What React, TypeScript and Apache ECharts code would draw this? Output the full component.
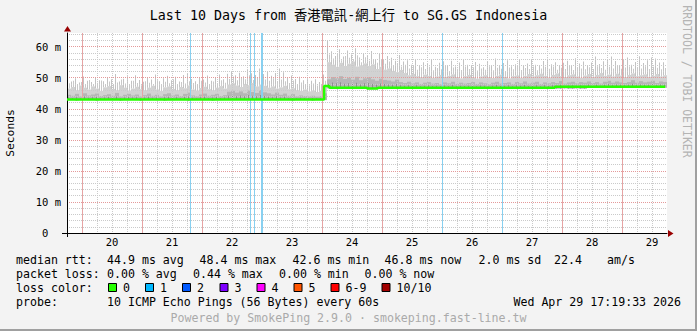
import React, { useEffect, useRef } from 'react';
import * as echarts from 'echarts';

const MONO = '"DejaVu Sans Mono", "Noto Sans CJK TC", monospace';

const titleText = 'Last 10 Days from 香港電訊-網上行 to SG.GS Indonesia';
const yAxisName = 'Seconds';
const watermark = 'RRDTOOL / TOBI OETIKER';

// time grid of smoke samples (days of April)
const sampleStart = 19.75;
const sampleStep = 1 / 15;

const smokeLow = [
  42.8, 42.8, 42.7, 42.8, 42.9, 42.8, 42.8, 42.7, 42.8, 42.8,
  42.9, 42.8, 42.8, 42.7, 42.8, 42.8, 42.9, 42.8, 42.7, 42.8,
  42.8, 42.9, 42.8, 42.8, 42.7, 42.8, 42.8, 42.9, 42.8, 42.8,
  42.7, 42.8, 42.8, 42.9, 42.8, 42.8, 42.7, 42.8, 42.8, 42.9,
  42.9, 43.0, 42.9, 43.0, 43.1, 42.9, 43.0, 43.0, 42.9, 43.0,
  42.8, 42.9, 42.8, 42.8, 42.9, 42.8, 42.7, 42.8, 42.8, 42.8,
  42.8, 42.7, 42.8, 42.8, 42.8, 46.6, 46.8, 46.7, 46.6, 46.5,
  46.5, 46.6, 46.5, 46.5, 46.6, 46.5, 46.4, 46.5, 46.5, 46.6,
  46.5, 46.6, 46.5, 46.5, 46.6, 46.5, 46.5, 46.6, 46.5, 46.5,
  46.6, 46.5, 46.5, 46.6, 46.5, 46.5, 46.6, 46.5, 46.5, 46.6,
  46.5, 46.6, 46.5, 46.5, 46.6, 46.5, 46.5, 46.6, 46.5, 46.5,
  46.6, 46.5, 46.5, 46.6, 46.5, 46.5, 46.6, 46.5, 46.5, 46.6,
  46.5, 46.6, 46.5, 46.5, 46.6, 46.5, 46.5, 46.6, 46.5, 46.5,
  46.8, 46.8, 46.9, 46.8, 46.8, 46.9, 46.8, 46.8, 46.9, 46.8,
  46.8, 46.9, 46.8, 46.8, 46.9, 46.8, 46.8, 46.9, 46.8, 46.8,
];

const smokeDark = [
  44.5, 44.2, 44.8, 44.0, 45.0, 44.3, 44.6, 44.9, 44.1, 44.4,
  44.7, 44.2, 45.1, 44.0, 44.5, 44.8, 44.3, 44.6, 44.0, 44.4,
  44.9, 44.2, 44.5, 44.0, 44.7, 45.0, 44.3, 44.6, 44.1, 44.8,
  45.2, 44.3, 44.0, 44.6, 44.9, 44.2, 44.5, 44.8, 44.1, 44.4,
  45.5, 45.8, 45.2, 45.6, 45.0, 45.9, 45.4, 45.1, 46.0, 45.3,
  45.0, 44.6, 45.2, 44.5, 44.9, 44.2, 44.7, 44.0, 44.3, 44.1,
  44.0, 44.2, 43.9, 44.1, 45.0, 49.5, 50.2, 49.8, 50.5, 49.6,
  50.0, 49.4, 50.3, 49.2, 49.8, 50.1, 49.5, 49.0, 49.7, 49.3,
  49.1, 48.8, 49.4, 48.6, 48.3, 48.7, 48.2, 48.5, 48.0, 48.4,
  48.6, 48.1, 48.3, 47.9, 48.5, 48.2, 48.7, 48.0, 48.4, 48.1,
  48.3, 48.6, 48.0, 48.5, 48.2, 47.9, 48.4, 48.7, 48.1, 48.3,
  48.5, 48.0, 48.6, 48.2, 48.8, 48.1, 48.4, 48.7, 48.0, 48.5,
  48.2, 48.6, 48.3, 48.9, 48.1, 48.5, 48.7, 48.2, 48.6, 48.4,
  48.8, 48.3, 48.6, 48.1, 48.7, 49.0, 48.4, 48.8, 48.5, 48.3,
  48.6, 49.2, 48.4, 48.9, 48.5, 48.7, 49.0, 48.3, 48.8, 48.6,
];

const smokeDense = [
  46.5, 47.0, 46.0, 47.5, 46.8, 46.2, 47.2, 46.5, 45.8, 46.9,
  47.3, 46.4, 46.0, 47.6, 46.8, 45.9, 46.5, 47.1, 46.3, 46.0,
  46.8, 47.4, 46.2, 45.8, 46.9, 47.2, 46.4, 46.0, 47.0, 46.6,
  47.5, 46.2, 45.9, 46.7, 47.1, 46.3, 46.0, 46.8, 47.3, 46.5,
  47.8, 48.2, 47.5, 47.0, 48.0, 47.6, 48.3, 47.2, 47.8, 47.4,
  46.8, 47.2, 46.5, 46.9, 47.4, 46.3, 46.6, 46.0, 45.8, 46.2,
  45.6, 45.9, 45.4, 45.8, 47.5, 55.0, 54.2, 53.5, 54.8, 53.8,
  54.5, 55.2, 53.6, 54.0, 54.6, 53.8, 54.3, 52.8, 53.5, 52.6,
  53.0, 52.2, 51.8, 52.5, 51.5, 50.8, 51.2, 50.5, 50.2, 51.0,
  50.6, 50.0, 50.4, 50.9, 50.3, 50.6, 51.1, 50.2, 49.8, 50.5,
  50.9, 50.1, 49.7, 50.4, 50.8, 50.2, 49.9, 50.6, 51.0, 50.3,
  49.8, 50.5, 50.7, 50.0, 50.6, 51.2, 50.4, 50.8, 51.3, 50.6,
  50.1, 50.9, 51.4, 50.5, 50.2, 50.8, 51.1, 50.4, 50.0, 50.7,
  51.2, 50.3, 50.9, 51.5, 50.6, 51.0, 50.4, 51.3, 50.7, 50.2,
  50.9, 51.4, 50.5, 50.8, 51.1, 50.3, 50.6, 51.2, 50.4, 50.8,
];

const smokeSpike = [
  49.5, 48.8, 49.8, 48.5, 50.4, 49.0, 48.6, 50.0, 49.2, 48.9,
  50.2, 49.5, 51.2, 48.8, 49.7, 50.5, 49.0, 50.8, 49.3, 48.7,
  50.0, 49.4, 51.0, 48.9, 49.8, 50.6, 49.2, 50.3, 48.8, 50.9,
  51.5, 49.6, 48.9, 50.2, 49.4, 50.7, 49.0, 50.1, 51.0, 49.5,
  51.3, 52.0, 50.8, 51.6, 50.5, 52.5, 51.4, 50.9, 53.0, 51.2,
  52.0, 50.6, 51.5, 53.0, 51.8, 49.9, 50.7, 49.6, 50.3, 49.2,
  49.8, 49.0, 49.5, 48.6, 51.0, 62.0, 58.5, 57.0, 59.2, 56.8,
  58.8, 57.5, 59.5, 56.5, 58.0, 57.2, 58.6, 56.0, 57.8, 55.8,
  57.0, 56.4, 55.5, 57.3, 55.2, 55.6, 54.2, 56.0, 53.8, 55.0,
  54.4, 55.7, 53.5, 54.8, 55.3, 54.0, 55.5, 53.6, 54.9, 56.0,
  54.2, 53.8, 55.1, 54.5, 53.4, 55.2, 54.0, 56.2, 53.9, 54.7,
  55.6, 53.7, 54.3, 55.8, 54.1, 54.6, 55.9, 54.2, 53.8, 55.4,
  56.1, 54.3, 55.0, 53.9, 54.8, 55.5, 54.1, 56.3, 54.6, 55.2,
  53.8, 54.9, 56.8, 54.4, 55.3, 56.0, 56.8, 55.4, 54.0, 55.8,
  56.5, 54.2, 55.1, 56.9, 54.7, 55.6, 56.5, 56.2, 54.9, 55.0,
];

const smokeSpike2 = [
  48.2, 49.0, 47.8, 48.6, 48.0, 49.3, 47.9, 48.4, 49.1, 47.7,
  48.8, 47.9, 48.5, 49.4, 48.1, 47.8, 49.0, 48.3, 47.6, 48.9,
  48.4, 48.0, 49.2, 47.9, 48.7, 48.2, 49.5, 47.8, 48.6, 48.1,
  48.9, 48.3, 47.7, 49.0, 48.5, 48.0, 48.8, 47.9, 49.2, 48.4,
  49.6, 50.4, 49.2, 50.0, 49.5, 50.8, 49.3, 50.2, 49.8, 49.4,
  49.0, 49.8, 48.6, 49.4, 48.9, 48.3, 49.1, 48.0, 48.5, 47.8,
  47.6, 48.1, 47.5, 47.9, 49.0, 57.5, 56.2, 58.0, 55.6, 57.0,
  56.4, 55.8, 57.2, 55.0, 56.6, 55.5, 56.0, 54.8, 55.9, 54.5,
  55.2, 54.0, 54.6, 53.6, 54.2, 53.0, 53.8, 52.6, 53.4, 52.8,
  53.5, 52.4, 53.1, 52.7, 53.9, 52.2, 53.3, 52.9, 52.5, 53.6,
  52.8, 53.4, 52.3, 53.0, 52.6, 53.7, 52.4, 53.2, 52.9, 52.1,
  53.3, 52.7, 53.8, 52.5, 53.1, 52.8, 53.6, 52.4, 53.0, 53.5,
  52.9, 53.6, 52.6, 53.2, 52.8, 53.9, 52.5, 53.3, 53.0, 52.7,
  53.4, 52.8, 53.7, 53.1, 52.6, 53.5, 53.0, 53.8, 52.9, 53.3,
  53.6, 52.9, 53.4, 53.0, 53.7, 52.8, 53.5, 53.2, 52.7, 53.1,
];

// median RTT (ms), step changes
const medianTimes = [19.75, 24.035, 24.125, 24.75, 24.93, 27.88, 29.72];
const medianValues = [43.0, 47.3, 46.8, 46.5, 46.8, 47.1, 47.1];

// samples with packet loss (1/10)
const lossTimes = [21.795, 22.803, 22.87, 22.978, 23.003, 26.012, 27.003];

// day boundaries (major grid)
const midnightTimes = [20, 21, 22, 23, 24, 25, 26, 27, 28, 29];

const xMin = 19.75;
const xMax = 29.75;
const yMin = 0;
const yMax = 64.4;

const rttLabel = 'median rtt:';
const rttItems = ['44.9 ms avg', '48.4 ms max', '42.6 ms min', '46.8 ms now', '2.0 ms sd', '22.4', 'am/s'];
const rttX = [107, 199.5, 292.5, 384.5, 478.5, 554, 607];

const lossLabel = 'packet loss:';
const lossItems = ['0.00 % avg', '0.44 % max', '0.00 % min', '0.00 % now'];
const lossX = [107, 193, 279, 364.5];

const colorLabel = 'loss color:';
const lossColorNames = ['0', '1', '2', '3', '4', '5', '6-9', '10/10'];
const lossColorValues = ['#26ff00', '#00b8ff', '#0059ff', '#7e00ff', '#ff00ff', '#ff5500', '#ff0000', '#a10000'];
const lossBoxX = [108, 145, 182, 219.5, 256.5, 293.5, 330.5, 381.5];

const probeLabel = 'probe:';
const probeText = '10 ICMP Echo Pings (56 Bytes) every 60s';
const dateText = 'Wed Apr 29 17:19:33 2026';
const poweredText = 'Powered by SmokePing 2.9.0 · smokeping.fast-line.tw';

const LEG = 11.6;

function txt(text: string, x: number, y: number, extra: any = {}) {
  return {
    type: 'text',
    x,
    y,
    silent: true,
    style: {
      text,
      fill: '#000',
      font: `${LEG}px ${MONO}`,
      align: 'left',
      verticalAlign: 'middle',
      textAlign: 'left',
      textVerticalAlign: 'middle',
      ...extra,
    },
  };
}

export default function App() {
  const ref = useRef<HTMLDivElement>(null);

  useEffect(() => {
    document.body.style.margin = '0';
    if (!ref.current) return;
    const chart = echarts.init(ref.current, undefined, { renderer: 'svg' });

    const smokeData = smokeLow.map((l, i) => [
      sampleStart + i * sampleStep,
      l,
      smokeDark[i],
      smokeDense[i],
      smokeSpike[i],
      smokeSpike2[i],
    ]);

    const graphic: any[] = [];
    graphic.push({ type: 'rect', shape: { x: 695, y: 0, width: 2, height: 331 }, style: { fill: '#a0a0a0' }, silent: true });
    graphic.push({ type: 'rect', shape: { x: 0, y: 329, width: 697, height: 2 }, style: { fill: '#a0a0a0' }, silent: true });
    graphic.push(txt(titleText, 348.5, 15, { font: `13.3px ${MONO}`, align: 'center', textAlign: 'center' }));
    graphic.push({
      type: 'text', x: 10, y: 133, rotation: Math.PI / 2, silent: true,
      style: { text: yAxisName, fill: '#000', font: `11.3px ${MONO}`, align: 'center', verticalAlign: 'middle', textAlign: 'center', textVerticalAlign: 'middle' },
    });
    graphic.push({
      type: 'text', x: 687, y: 81.5, rotation: -Math.PI / 2, silent: true,
      style: { text: watermark, fill: '#b4b4b4', font: `11.5px ${MONO}`, align: 'center', verticalAlign: 'middle', textAlign: 'center', textVerticalAlign: 'middle' },
    });
    // axis extensions and arrows
    graphic.push({ type: 'line', shape: { x1: 62, y1: 233.5, x2: 67, y2: 233.5 }, style: { stroke: '#000', lineWidth: 1 }, silent: true });
    graphic.push({ type: 'line', shape: { x1: 67.5, y1: 233, x2: 67.5, y2: 237 }, style: { stroke: '#000', lineWidth: 1 }, silent: true });
    graphic.push({ type: 'polygon', shape: { points: [[668, 230], [673.5, 233.5], [668, 237]] }, style: { fill: '#990000' }, silent: true });
    graphic.push({ type: 'polygon', shape: { points: [[64, 31.5], [67.5, 26], [71, 31.5]] }, style: { fill: '#990000' }, silent: true });

    // legend
    graphic.push(txt(rttLabel, 16, 259.5));
    rttItems.forEach((s, i) => graphic.push(txt(s, rttX[i], 259.5)));
    graphic.push(txt(lossLabel, 16, 273.5));
    lossItems.forEach((s, i) => graphic.push(txt(s, lossX[i], 273.5)));
    graphic.push(txt(colorLabel, 16, 287.5));
    lossColorNames.forEach((s, i) => {
      graphic.push({
        type: 'rect', silent: true,
        shape: { x: lossBoxX[i] + 0.5, y: 283.5, width: 8, height: 8 },
        style: { fill: lossColorValues[i], stroke: '#000', lineWidth: 1 },
      });
      graphic.push(txt(s, lossBoxX[i] + 15, 287.5));
    });
    graphic.push(txt(probeLabel, 16, 301.5));
    graphic.push(txt(probeText, 107, 301.5));
    graphic.push(txt(dateText, 681, 301.5, { align: 'right', textAlign: 'right' }));
    graphic.push(txt(poweredText, 348.5, 318, { fill: '#aaaaaa', align: 'center', textAlign: 'center' }));

    const option: any = {
      animation: false,
      backgroundColor: '#f3f3f3',
      grid: { left: 67, top: 33, width: 600, height: 200, show: true, backgroundColor: '#ffffff', borderWidth: 0 },
      xAxis: {
        type: 'value', min: xMin, max: xMax, interval: 0.25, z: 3,
        axisLine: { show: true, onZero: false, lineStyle: { color: '#000', width: 1 } },
        axisTick: { show: false },
        axisLabel: {
          formatter: (v: number) => (Math.abs(v - Math.floor(v) - 0.5) < 1e-6 ? String(Math.floor(v)) : ''),
          fontSize: 10.5, fontFamily: MONO, color: '#000', margin: 4,
        },
        splitLine: { show: true, showMinLine: false, showMaxLine: false, lineStyle: { color: '#cacaca', type: [1, 1], width: 1 } },
      },
      yAxis: [
        {
          type: 'value', min: yMin, max: yMax, interval: 2, position: 'left', offset: 0, z: 3,
          axisLine: { show: false }, axisTick: { show: false }, axisLabel: { show: false },
          splitLine: { show: true, showMinLine: false, showMaxLine: false, lineStyle: { color: '#cacaca', type: [1, 1], width: 1 } },
        },
        {
          type: 'value', min: yMin, max: yMax, interval: 10, position: 'left', offset: 0, z: 4,
          axisLine: { show: true, lineStyle: { color: '#000', width: 1 } },
          axisTick: { show: false },
          axisLabel: {
            formatter: (v: number) => (v === 0 ? '{z|0}' : Math.abs(v % 10) < 1e-6 ? `${v} m` : ''),
            fontSize: 10.5, fontFamily: MONO, color: '#000', margin: 6,
            rich: { z: { fontSize: 10.5, fontFamily: MONO, color: '#000', padding: [0, 12.6, 0, 0] } },
          },
          splitLine: { show: true, showMinLine: false, showMaxLine: false, lineStyle: { color: '#e49a9a', type: [1, 1], width: 1 } },
        },
      ],
      series: [
        {
          type: 'custom', name: 'smoke', xAxisIndex: 0, yAxisIndex: 1, z: 2, clip: true,
          data: smokeData,
          encode: { x: 0, y: [1, 2, 3, 4, 5] },
          renderItem: (params: any, api: any) => {
            const t = api.value(0);
            const pLow = api.coord([t, api.value(1)]);
            const pDark = api.coord([t, api.value(2)]);
            const pDense = api.coord([t, api.value(3)]);
            const pSpike = api.coord([t, api.value(4)]);
            const pSpike2 = api.coord([t, api.value(5)]);
            const w = api.size([sampleStep, 0])[0];
            const x0 = pLow[0];
            return {
              type: 'group',
              children: [
                { type: 'rect', shape: { x: x0, y: pDense[1], width: w, height: pLow[1] - pDense[1] }, style: { fill: '#d2d2d2' } },
                { type: 'rect', shape: { x: x0, y: pSpike[1], width: 1, height: pDense[1] - pSpike[1] }, style: { fill: '#c2c2c2' } },
                { type: 'rect', shape: { x: x0 + 2, y: pSpike2[1], width: 1, height: pDense[1] - pSpike2[1] }, style: { fill: '#c8c8c8' } },
                { type: 'rect', shape: { x: x0, y: pDark[1], width: w, height: pLow[1] - pDark[1] }, style: { fill: '#b6b6b6' } },
                { type: 'rect', shape: { x: x0 + 1, y: pDark[1] + (pLow[1] - pDark[1]) * 0.5, width: 1, height: (pLow[1] - pDark[1]) * 0.5 }, style: { fill: '#8e8e8e' } },
              ],
            };
          },
        },
        {
          type: 'line', name: 'grid', xAxisIndex: 0, yAxisIndex: 1, z: 6, data: [],
          markLine: {
            z: 7,
            silent: true, symbol: ['none', 'none'], label: { show: false },
            lineStyle: { color: '#e6a4a4', type: 'solid', width: 1 },
            emphasis: { disabled: true },
            data: midnightTimes.map((t) => ({ xAxis: t })),
          },
        },
        {
          type: 'line', name: 'median', xAxisIndex: 0, yAxisIndex: 1, z: 10, step: 'end',
          showSymbol: false,
          lineStyle: { color: '#26ff00', width: 2.5 },
          data: medianTimes.map((t, i) => [t, medianValues[i]]),
          markLine: {
            z: 8,
            silent: true, symbol: ['none', 'none'], label: { show: false },
            lineStyle: { color: '#88d0f0', type: 'solid', width: 1 },
            data: lossTimes.map((t) => ({ xAxis: t })),
          },
        },
      ],
      graphic,
    };

    chart.setOption(option);
    return () => chart.dispose();
  }, []);

  return <div ref={ref} style={{ width: 697, height: 331 }} />;
}
